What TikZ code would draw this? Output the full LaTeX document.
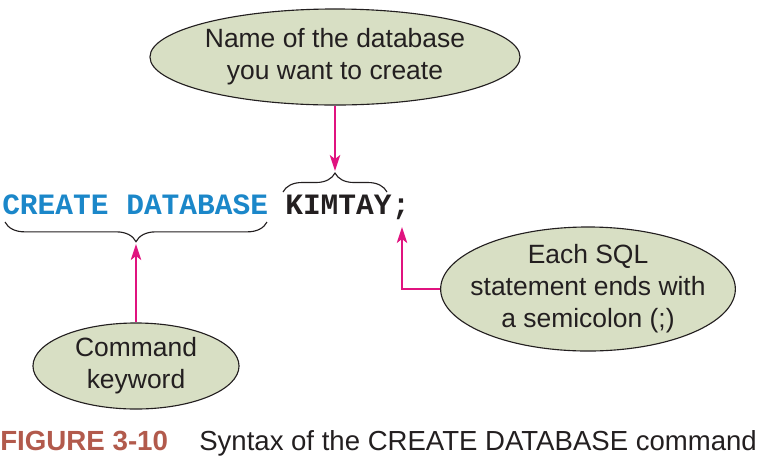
\documentclass[tikz,border=0pt]{standalone}
\usepackage{fontspec}
\setmainfont{Liberation Sans}
\newfontfamily\codefont{Liberation Mono}
\usetikzlibrary{arrows.meta,shapes.geometric,decorations.pathreplacing}

\definecolor{sqlblue}{HTML}{1B87C9}
\definecolor{calloutfill}{HTML}{D8DFC4}
\definecolor{pointer}{HTML}{E0137F}
\definecolor{figred}{HTML}{B25A4C}
\definecolor{ink}{HTML}{231F20}

\begin{document}
\begin{tikzpicture}[x=0.025cm,y=-0.025cm]
\tikzstyle{callout}=[draw=ink, thick, fill=calloutfill, ellipse, inner sep=0pt, align=center, text=ink, font=\fontsize{18.8}{22.8}\selectfont]
\tikzstyle{code}=[inner sep=0pt, anchor=base west, font=\codefont\bfseries\fontsize{21}{24}\selectfont]
\tikzstyle{pointarrow}=[draw=pointer, line width=1.2pt, -{Stealth[length=4mm, width=2.6mm, inset=1mm]}]
\tikzstyle{bracestyle}=[draw=ink, thick, decorate]
    \useasboundingbox (0,0) rectangle (771,470);
    % the statement
    \node[code, text=sqlblue] (cmd) at (2,214) {CREATE DATABASE};
    \node[code, text=ink] (dbname) at (285,214) {KIMTAY};
    \node[code, text=ink] (semi) at (dbname.base east) {;};
    % callouts
    \node[callout, minimum width=9.25cm, minimum height=2.4cm] (namenote) at (335,57) {Name of the database\\you want to create};
    \node[callout, inner xsep=-9.5pt, inner ysep=-3pt, minimum width=7.3cm, minimum height=3.1cm] (endnote) at (588,289) {Each SQL\\statement ends with\\a semicolon (;)};
    \node[callout, minimum width=5.15cm, minimum height=2.15cm] (keynote) at (136,366) {Command\\keyword};
    % braces
    \draw[bracestyle, decoration={brace, amplitude=13.5pt}] (283,192) -- (387,192);
    \draw[bracestyle, decoration={brace, amplitude=14pt}] (267,222) -- (5,222);
    \coordinate (nametip) at (335,171);
    \coordinate (keytip) at (136,244);
    \coordinate (semitip) at (402,227);
    % pointers
    \draw[pointarrow] (namenote.south) -- (nametip);
    \draw[pointarrow] (keynote.north) -- (keytip);
    \draw[pointarrow] (endnote.west) -| (semitip);
    % caption
    \node[anchor=base west, inner sep=0pt, text=figred, font=\bfseries\fontsize{19.7}{22}\selectfont] (fignum) at (0,450) {FIGURE 3-10};
    \node[anchor=base west, inner sep=0pt, text=ink, font=\fontsize{19.6}{22}\selectfont] (figtitle) at (199,450) {Syntax of the CREATE DATABASE command};
\end{tikzpicture}
\end{document}
